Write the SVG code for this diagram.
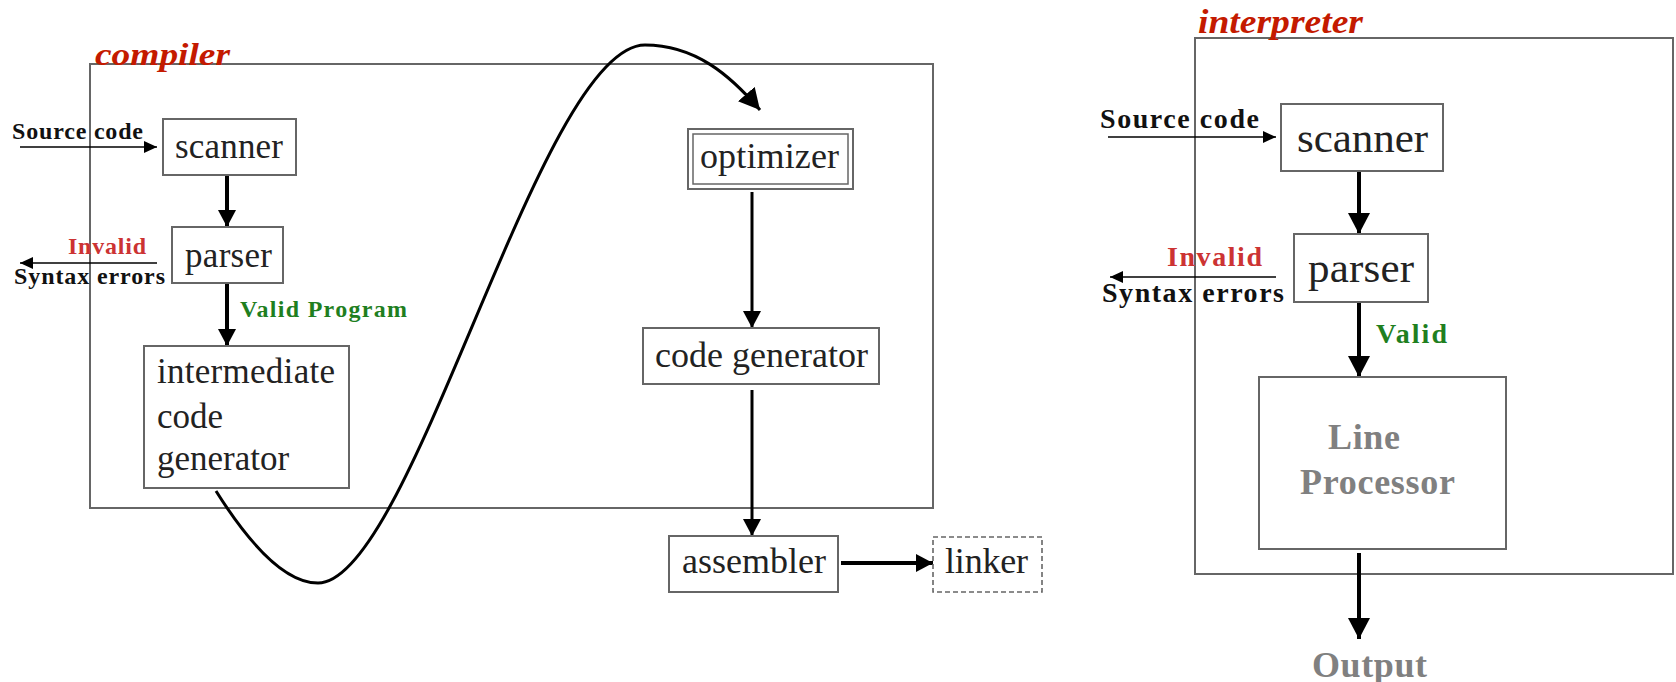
<svg xmlns="http://www.w3.org/2000/svg" width="1676" height="682" viewBox="0 0 1676 682">
<style>
.frame{fill:none;stroke:#666;stroke-width:2}
.box{fill:#fff;stroke:#666;stroke-width:2}
.dash{fill:#fff;stroke:#666;stroke-width:1.6;stroke-dasharray:5 3}
.node{font-family:"Liberation Serif","Times New Roman",serif;fill:#222}
.lbl{font-family:"Liberation Serif","Times New Roman",serif;font-weight:bold;fill:#111}
.red{fill:#cc3333}
.green{fill:#1f7f1f}
.gray{font-family:"Liberation Serif","Times New Roman",serif;font-weight:bold;fill:#808080}
.title{font-family:"Liberation Serif","Times New Roman",serif;font-weight:bold;font-style:italic;fill:#c41a00}
.thin{stroke:#000;stroke-width:1.5;fill:none}
.thick{stroke:#000;stroke-width:4;fill:none}
.mid{stroke:#000;stroke-width:3;fill:none}
</style>
<defs>
<marker id="hs" viewBox="0 0 13 12" refX="13" refY="6" markerWidth="13" markerHeight="12" markerUnits="userSpaceOnUse" orient="auto"><path d="M0,0 L13,6 L0,12 z" fill="#000"/></marker>
<marker id="hb" viewBox="0 0 17 18" refX="17" refY="9" markerWidth="17" markerHeight="18" markerUnits="userSpaceOnUse" orient="auto"><path d="M0,0 L17,9 L0,18 z" fill="#000"/></marker>
<marker id="hl" viewBox="0 0 21 22" refX="21" refY="11" markerWidth="21" markerHeight="22" markerUnits="userSpaceOnUse" orient="auto"><path d="M0,0 L21,11 L0,22 z" fill="#000"/></marker>
</defs>
<rect width="1676" height="682" fill="#fff"/>

<!-- frames -->
<g id="compiler-frame">
<rect class="frame" x="90" y="64" width="843" height="444"/>
<text class="title" x="95" y="65" font-size="32" textLength="135" lengthAdjust="spacingAndGlyphs">compiler</text>
</g>
<g id="interpreter-frame">
<rect class="frame" x="1195" y="38" width="478" height="536"/>
<text class="title" x="1198" y="33" font-size="33" textLength="165" lengthAdjust="spacingAndGlyphs">interpreter</text>
</g>

<!-- connectors -->
<g id="connectors">
<line class="thin" x1="20" y1="147" x2="157" y2="147" marker-end="url(#hs)"/>
<line class="thick" x1="227" y1="175" x2="227" y2="227" marker-end="url(#hb)"/>
<line class="thin" x1="157" y1="263" x2="20" y2="263" marker-end="url(#hs)"/>
<line class="thick" x1="227" y1="283" x2="227" y2="346" marker-end="url(#hb)"/>
<path class="mid" d="M216,491 C250,545 285,583 318,583 C412,583 540,45 645,45 C695,45 730,75 760,110" marker-end="url(#hl)"/>
<line class="mid" x1="752" y1="192" x2="752" y2="328" marker-end="url(#hb)"/>
<line class="mid" x1="752" y1="390" x2="752" y2="536" marker-end="url(#hb)"/>
<line class="thick" x1="841" y1="563" x2="933" y2="563" marker-end="url(#hb)"/>

<line class="thin" x1="1108" y1="137" x2="1276" y2="137" marker-end="url(#hs)"/>
<line class="thick" x1="1359" y1="171" x2="1359" y2="234" marker-end="url(#hl)"/>
<line class="thin" x1="1276" y1="277" x2="1110" y2="277" marker-end="url(#hs)"/>
<line class="thick" x1="1359" y1="302" x2="1359" y2="377" marker-end="url(#hl)"/>
<line class="thick" x1="1359" y1="553" x2="1359" y2="639" marker-end="url(#hl)"/>
</g>

<!-- edge labels -->
<g id="labels">
<text class="lbl" x="12" y="139" font-size="24" textLength="131">Source code</text>
<text class="lbl red" x="68" y="254" font-size="24" textLength="78">Invalid</text>
<text class="lbl" x="14" y="284" font-size="24" textLength="151">Syntax errors</text>
<text class="lbl green" x="240" y="317" font-size="24" textLength="167">Valid Program</text>

<text class="lbl" x="1100" y="128" font-size="28" textLength="159">Source code</text>
<text class="lbl red" x="1167" y="266" font-size="28" textLength="95">Invalid</text>
<text class="lbl" x="1102" y="302" font-size="28" textLength="182">Syntax errors</text>
<text class="lbl green" x="1376" y="343" font-size="28" textLength="71">Valid</text>
</g>

<!-- compiler nodes -->
<g id="scanner">
<rect class="box" x="163" y="119" width="133" height="56"/>
<text class="node" x="175" y="158" font-size="35" textLength="108">scanner</text>
</g>
<g id="parser">
<rect class="box" x="172" y="227" width="111" height="56"/>
<text class="node" x="185" y="267" font-size="35" textLength="87">parser</text>
</g>
<g id="icg">
<rect class="box" x="144" y="346" width="205" height="142"/>
<text class="node" font-size="35"><tspan x="157" y="383" textLength="178">intermediate</tspan><tspan x="157" y="428">code</tspan><tspan x="157" y="470">generator</tspan></text>
</g>
<g id="optimizer">
<rect class="box" x="688" y="129" width="165" height="60"/>
<rect fill="none" stroke="#666" stroke-width="1.5" x="693" y="134" width="155" height="50"/>
<text class="node" x="700" y="168" font-size="36" textLength="139">optimizer</text>
</g>
<g id="code-generator">
<rect class="box" x="643" y="328" width="236" height="56"/>
<text class="node" x="655" y="367" font-size="36" textLength="213">code generator</text>
</g>
<g id="assembler">
<rect class="box" x="669" y="536" width="169" height="56"/>
<text class="node" x="682" y="573" font-size="36" textLength="144">assembler</text>
</g>
<g id="linker">
<rect class="dash" x="933" y="537" width="109" height="55"/>
<text class="node" x="945" y="573" font-size="36" textLength="83">linker</text>
</g>

<!-- interpreter nodes -->
<g id="i-scanner">
<rect class="box" x="1281" y="104" width="162" height="67"/>
<text class="node" x="1297" y="152" font-size="43" textLength="131">scanner</text>
</g>
<g id="i-parser">
<rect class="box" x="1294" y="234" width="134" height="68"/>
<text class="node" x="1308" y="282" font-size="43" textLength="106">parser</text>
</g>
<g id="line-processor">
<rect class="box" x="1259" y="377" width="247" height="172"/>
<text class="gray" font-size="36"><tspan x="1328" y="449" textLength="72">Line</tspan><tspan x="1300" y="494" textLength="155">Processor</tspan></text>
</g>
<g id="output">
<text class="gray" x="1312" y="677" font-size="36" textLength="115">Output</text>
</g>
</svg>
